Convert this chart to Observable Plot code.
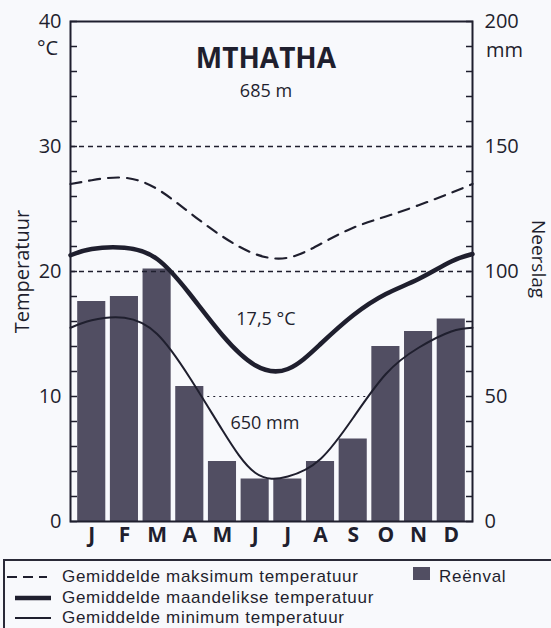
<!DOCTYPE html>
<html>
<head>
<meta charset="utf-8">
<script src="https://cdn.jsdelivr.net/npm/d3@7"></script>
<script src="https://cdn.jsdelivr.net/npm/@observablehq/plot@0.6"></script>
<style>
  body { margin: 0; background: #f8f9fc; font-family: "Open Sans", sans-serif; color: #1f1f2e; }
  #wrap { position: relative; width: 551px; height: 628px; overflow: hidden; }
  #chart svg { display: block; background: transparent; }
  #legend { position: absolute; left: 3px; top: 559px; width: 560px; height: 80px;
            border: 2px solid #2a2a38; box-sizing: border-box;
            font-family: "Liberation Sans", Arial, sans-serif; font-size: 17px; letter-spacing: 0.7px; }
  .row { position: absolute; left: 0; height: 19px; display: flex; align-items: center; white-space: nowrap; }
  .row svg { width: 56px; height: 19px; flex: none; }
  .row span { display: inline-block; line-height: 19px; margin-left: 1px; }
</style>
</head>
<body>
<div id="wrap">
  <div id="chart"></div>
  <div id="legend">
    <div class="row" style="top:6px"><svg><line x1="2" x2="42" y1="10" y2="10" stroke="#1f1f2e" stroke-width="2.2" stroke-dasharray="10,6"/></svg><span>Gemiddelde maksimum temperatuur</span></div>
    <div class="row" style="top:26.5px"><svg><line x1="10" x2="46" y1="10" y2="10" stroke="#1f1f2e" stroke-width="4.5"/></svg><span>Gemiddelde maandelikse temperatuur</span></div>
    <div class="row" style="top:47px"><svg><line x1="10" x2="46" y1="10" y2="10" stroke="#1f1f2e" stroke-width="2"/></svg><span>Gemiddelde minimum temperatuur</span></div>
    <div class="row" style="top:6px;left:406px"><svg style="width:22px"><rect x="2" y="-3" width="17" height="16" fill="#514e62"/></svg><span style="margin-left:6px">Reënval</span></div>
  </div>
</div>
<script>
// ---- data ----
const months = ["J","F","M","A","M","J","J","A","S","O","N","D"];
const rainfall = [88, 90, 101, 54, 24, 17, 17, 24, 33, 70, 76, 81];          // mm
const tMax  = [27.3, 27.5, 26.6, 24.7, 22.8, 21.4, 21.1, 22.2, 23.5, 24.4, 25.3, 26.3]; // °C
const tMean = [21.8, 21.9, 21.0, 18.2, 14.9, 12.5, 12.2, 14.2, 16.5, 18.2, 19.4, 20.8];
const tMin  = [16.1, 16.3, 15.0, 11.5, 7.3, 3.9, 3.6, 5.0, 8.3, 11.8, 13.9, 15.2];
// where each curve meets the left / right frame edge (mid Dec–Jan)
const edgeMax  = [27.0, 27.0];
const edgeMean = [21.3, 21.4];
const edgeMin  = [15.5, 15.5];
const tempTicks = [0, 10, 20, 30, 40];
const minorTicks = d3.range(0, 41, 2);
const station = "MTHATHA";
const altitude = "685 m";
const annualMean = "17,5 °C";
const annualRain = "650 mm";

// ---- build tables ----
const xLo = 0.35, xHi = 12.65;
const rainRows = months.map((m, i) => ({m: i + 1, mm: rainfall[i]}));
function series(vals, edge) {
  return [{m: xLo, t: edge[0]}, ...vals.map((t, i) => ({m: i + 1, t})), {m: xHi, t: edge[1]}];
}
const maxRows = series(tMax, edgeMax);
const meanRows = series(tMean, edgeMean);
const minRows = series(tMin, edgeMin);

const ink = "#1f1f2e";
const font = "Open Sans, sans-serif";

const chart = Plot.plot({
  width: 551,
  height: 550,
  marginLeft: 70,
  marginRight: 79,
  marginTop: 21,
  marginBottom: 29,
  style: {fontFamily: font, color: ink, background: "transparent"},
  x: {domain: [xLo, xHi], axis: null},
  y: {domain: [0, 40], axis: null},
  marks: [
    Plot.ruleY([10], {x1: 4.55, x2: 9.45, stroke: ink, strokeWidth: 1, strokeDasharray: "2,4"}),
    Plot.rect(rainRows, {x1: d => d.m - 0.43, x2: d => d.m + 0.43, y1: 0, y2: d => d.mm / 5, fill: "#514e62"}),
    Plot.ruleY([20, 30], {stroke: ink, strokeWidth: 1.6, strokeDasharray: "5,4"}),
    Plot.line(maxRows, {x: "m", y: "t", curve: "natural", stroke: ink, strokeWidth: 2.2, strokeDasharray: "11,8"}),
    Plot.line(meanRows, {x: "m", y: "t", curve: "natural", stroke: ink, strokeWidth: 4.5}),
    Plot.line(minRows, {x: "m", y: "t", curve: "natural", stroke: ink, strokeWidth: 2}),
    Plot.frame({stroke: ink, strokeWidth: 2}),
    // minor inward ticks
    Plot.axisY({anchor: "left", ticks: minorTicks, tickSize: -7, tickFormat: () => "", stroke: ink, strokeWidth: 1.5, label: null}),
    Plot.axisY({anchor: "right", ticks: minorTicks, tickSize: -7, tickFormat: () => "", stroke: ink, strokeWidth: 1.5, label: null}),
    // labelled ticks
    Plot.axisY({anchor: "left", ticks: tempTicks, tickSize: 0, tickPadding: 9, fontSize: 20, label: null}),
    Plot.axisY({anchor: "right", ticks: tempTicks, tickSize: 0, tickPadding: 12, fontSize: 20, tickFormat: d => d * 5, label: null}),
    Plot.axisX({ticks: d3.range(1, 13), tickSize: 0, tickPadding: 6, fontSize: 21, fontWeight: "bold", tickFormat: d => months[d - 1], label: null}),
    // units
    Plot.text(["°C"], {x: xLo, y: 37.8, dx: -23, fontSize: 20, textAnchor: "middle"}),
    Plot.text(["mm"], {x: xHi, y: 37.7, dx: 32, fontSize: 20, textAnchor: "middle"}),
    Plot.text(["Temperatuur"], {x: xLo, y: 20, dx: -48, rotate: -90, fontSize: 20}),
    Plot.text(["Neerslag"], {x: xHi, y: 21, dx: 66, rotate: 90, fontSize: 19}),
    // annotations
    Plot.text([station], {x: 6.33, y: 37.0, fontSize: 28, fontWeight: "bold"}),
    Plot.text([altitude], {x: 6.33, y: 34.4, fontSize: 18}),
    Plot.text([annualMean], {x: 6.33, y: 16.2, fontSize: 18}),
    Plot.text([annualRain], {x: 6.3, y: 7.9, fontSize: 18})
  ]
});
document.getElementById("chart").appendChild(chart);
</script>
</body>
</html>
